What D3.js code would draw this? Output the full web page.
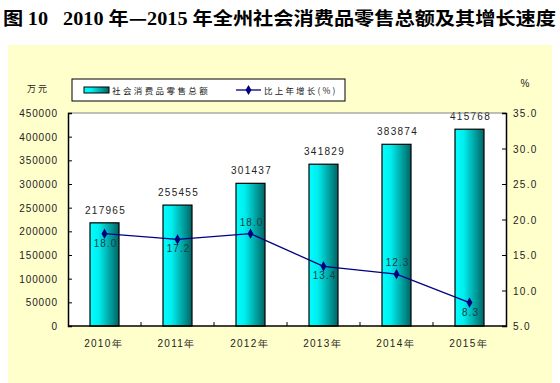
<!DOCTYPE html>
<html>
<head>
<meta charset="utf-8">
<script src="https://cdn.jsdelivr.net/npm/d3@7"></script>
<style>
  body { margin: 0; background: #fff; }
  svg { display: block; }
</style>
</head>
<body>
<div id="chart"></div>
<script>
// Data
let years = ["2010年", "2011年", "2012年", "2013年", "2014年", "2015年"];
let sales = [217965, 255455, 301437, 341829, 383874, 415768];
let growth = [18.0, 17.2, 18.0, 13.4, 12.3, 8.3];
let leftTicks = [0, 50000, 100000, 150000, 200000, 250000, 300000, 350000, 400000, 450000];
let rightTicks = [5, 10, 15, 20, 25, 30, 35];
let growthAbove = [false, false, true, false, true, false];

let w = 560, h = 383;
let plot = { x0: 68, x1: 506, y0: 113, y1: 326 };
let tickFont = "'Liberation Sans', Arial, sans-serif";
let cjkFont = "'Noto Sans CJK SC', sans-serif";

let svg = d3.select("#chart").append("svg")
  .attr("width", w).attr("height", h);

// bar gradient
let defs = svg.append("defs");
let grad = defs.append("linearGradient").attr("id", "barGrad")
  .attr("x1", 0).attr("x2", 1).attr("y1", 0).attr("y2", 0);
grad.append("stop").attr("offset", "0%").attr("stop-color", "#00ffff");
grad.append("stop").attr("offset", "30%").attr("stop-color", "#00eeee");
grad.append("stop").attr("offset", "100%").attr("stop-color", "#006464");

// Title
let title = svg.append("text")
  .attr("x", 3).attr("y", 25)
  .style("white-space", "pre")
  .attr("font-size", 18).attr("font-weight", "bold")
  .attr("textLength", 553).attr("lengthAdjust", "spacingAndGlyphs")
  .attr("fill", "#000");
[["图 ", cjkFont], ["10   2010 ", "'Liberation Serif', serif"], ["年—", cjkFont],
 ["2015 ", "'Liberation Serif', serif"], ["年全州社会消费品零售总额及其增长速度", cjkFont]]
  .forEach(p => title.append("tspan").attr("font-family", p[1]).text(p[0]));

// Yellow panel
svg.append("rect").attr("x", 8).attr("y", 45).attr("width", 544).attr("height", 338)
  .attr("fill", "#ffffcc");

// Plot area
svg.append("rect").attr("x", plot.x0).attr("y", plot.y0)
  .attr("width", plot.x1 - plot.x0).attr("height", plot.y1 - plot.y0)
  .attr("fill", "#fff");

let xc = d3.scaleBand().domain(years).range([plot.x0, plot.x1]);
let yL = d3.scaleLinear().domain([0, 450000]).range([plot.y1, plot.y0]);
let yR = d3.scaleLinear().domain([5, 35]).range([plot.y1, plot.y0]);

// Bars
svg.append("g").selectAll("rect").data(sales).join("rect")
  .attr("x", (d, i) => xc(years[i]) + xc.bandwidth() / 2 - 14.5)
  .attr("width", 29)
  .attr("y", d => yL(d))
  .attr("height", d => plot.y1 - yL(d))
  .attr("fill", "url(#barGrad)")
  .attr("stroke", "#000").attr("stroke-width", 1.2);

// Bar labels
svg.append("g").selectAll("text").data(sales).join("text")
  .attr("x", (d, i) => xc(years[i]) + xc.bandwidth() / 2 + 1)
  .attr("y", d => yL(d) - 9)
  .attr("text-anchor", "middle")
  .attr("font-family", tickFont).attr("font-size", 10).attr("letter-spacing", 1.3)
  .attr("fill", "#222")
  .text(d => d);

// Axes frame
svg.append("line").attr("x1", plot.x0).attr("x2", plot.x1).attr("y1", plot.y0).attr("y2", plot.y0)
  .attr("stroke", "#808080").attr("stroke-width", 1);

let axL = svg.append("g").attr("transform", `translate(${plot.x0},0)`)
  .call(d3.axisRight(yL).tickValues(leftTicks).tickSize(4).tickFormat(d => ""));
let axR = svg.append("g").attr("transform", `translate(${plot.x1},0)`)
  .call(d3.axisLeft(yR).tickValues(rightTicks).tickSize(4).tickFormat(d => ""));
let axB = svg.append("g").attr("transform", `translate(0,${plot.y1})`)
  .call(d3.axisTop(xc).tickSize(0).tickFormat(d => ""));
[axL, axR, axB].forEach(a => {
  a.selectAll("path").attr("stroke", "#000").attr("stroke-width", 1.5);
  a.selectAll("line").attr("stroke", "#000");
});
axB.select("path").attr("d", `M${plot.x0},0H${plot.x1}`);
// category separator ticks
svg.append("g").selectAll("line").data(years.slice(1)).join("line")
  .attr("x1", d => xc(d)).attr("x2", d => xc(d))
  .attr("y1", plot.y1).attr("y2", plot.y1 - 4)
  .attr("stroke", "#000");

// Tick labels
svg.append("g").selectAll("text").data(leftTicks).join("text")
  .attr("x", 58).attr("y", d => yL(d) + 4)
  .attr("text-anchor", "end")
  .attr("font-family", tickFont).attr("font-size", 10).attr("letter-spacing", 0.9)
  .attr("fill", "#222").text(d => d);
svg.append("g").selectAll("text").data(rightTicks).join("text")
  .attr("x", 513).attr("y", d => yR(d) + 4)
  .attr("font-family", tickFont).attr("font-size", 10).attr("letter-spacing", 1.3)
  .attr("fill", "#222").text(d => d.toFixed(1));
svg.append("g").selectAll("text").data(years).join("text")
  .attr("x", d => xc(d) + xc.bandwidth() / 2 - 1)
  .attr("y", 347)
  .attr("text-anchor", "middle")
  .attr("font-family", tickFont).attr("font-size", 10).attr("letter-spacing", 1.3)
  .attr("fill", "#222").text(d => d);

// Units
svg.append("text").attr("x", 38).attr("y", 92).attr("text-anchor", "middle")
  .attr("font-family", cjkFont).attr("font-size", 9).attr("letter-spacing", 2)
  .attr("fill", "#222").text("万元");
svg.append("text").attr("x", 525).attr("y", 87).attr("text-anchor", "middle")
  .attr("font-family", tickFont).attr("font-size", 10)
  .attr("fill", "#222").text("%");

// Growth line
let cx = (d, i) => xc(years[i]) + xc.bandwidth() / 2;
let line = d3.line().x((d, i) => cx(d, i)).y(d => yR(d));
svg.append("path").datum(growth)
  .attr("d", line).attr("fill", "none")
  .attr("stroke", "#000080").attr("stroke-width", 1.3);
svg.append("g").selectAll("path").data(growth).join("path")
  .attr("transform", (d, i) => `translate(${cx(d, i)},${yR(d)})`)
  .attr("d", d3.symbol(d3.symbolDiamond, 30))
  .attr("fill", "#000080");
svg.append("g").selectAll("text").data(growth).join("text")
  .attr("x", (d, i) => cx(d, i) + 1)
  .attr("y", (d, i) => growthAbove[i] ? yR(d) - 8 : yR(d) + 13)
  .attr("text-anchor", "middle")
  .attr("font-family", tickFont).attr("font-size", 10).attr("letter-spacing", 1)
  .attr("fill", "#1e3c46").text(d => d.toFixed(1));

// Legend
let lg = svg.append("g");
lg.append("rect").attr("x", 72).attr("y", 79).attr("width", 273).attr("height", 22)
  .attr("fill", "#fff").attr("stroke", "#000").attr("stroke-width", 1);
lg.append("rect").attr("x", 84).attr("y", 87).attr("width", 25).attr("height", 6)
  .attr("fill", "url(#barGrad)").attr("stroke", "#000").attr("stroke-width", 1);
lg.append("text").attr("x", 112).attr("y", 94)
  .attr("font-family", cjkFont).attr("font-size", 8.5).attr("letter-spacing", 2.4)
  .attr("fill", "#222").text("社会消费品零售总额");
lg.append("line").attr("x1", 236).attr("x2", 261).attr("y1", 90).attr("y2", 90)
  .attr("stroke", "#000080").attr("stroke-width", 1.3);
lg.append("path").attr("transform", "translate(248.5,90)")
  .attr("d", d3.symbol(d3.symbolDiamond, 30)).attr("fill", "#000080");
lg.append("text").attr("x", 264).attr("y", 94)
  .attr("font-family", cjkFont).attr("font-size", 8.5).attr("letter-spacing", 2.2)
  .attr("fill", "#222").text("比上年增长(%)");
</script>
</body>
</html>
